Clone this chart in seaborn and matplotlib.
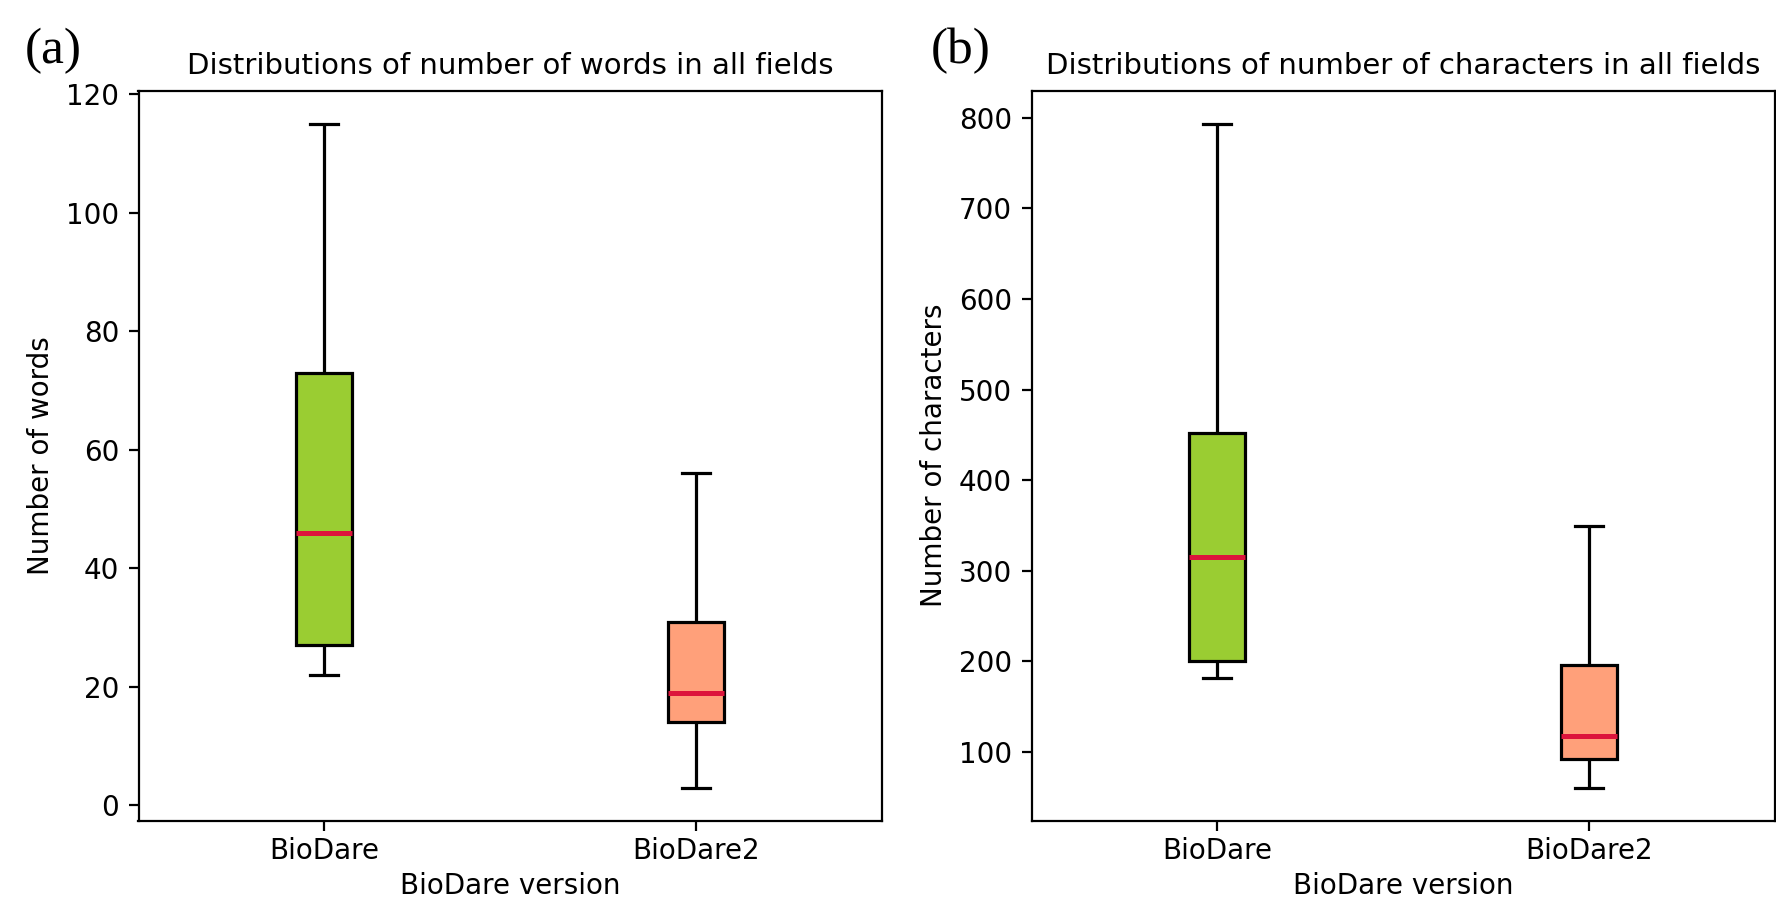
import matplotlib
matplotlib.use("Agg")
import matplotlib.pyplot as plt
import seaborn as sns
import pandas as pd

# Five-number summaries: [min, Q1, median, Q3, max]
versions = ["BioDare", "BioDare2"]
words_biodare = [22, 27, 46, 73, 115]
words_biodare2 = [3, 14, 19, 31, 56]
chars_biodare = [182, 201, 315, 452, 793]
chars_biodare2 = [61, 93, 118, 196, 350]
box_colors = ["yellowgreen", "lightsalmon"]
median_color = "crimson"

titles = ["Distributions of number of words in all fields",
          "Distributions of number of characters in all fields"]
ylabels = ["Number of words", "Number of characters"]
xlabel = "BioDare version"
panel_labels = ["(a)", "(b)"]

plt.rcParams["font.family"] = ["DejaVu Sans"]
plt.rcParams["font.size"] = 10

df_words = pd.DataFrame({
    "version": [versions[0]] * len(words_biodare) + [versions[1]] * len(words_biodare2),
    "value": words_biodare + words_biodare2,
})
df_chars = pd.DataFrame({
    "version": [versions[0]] * len(chars_biodare) + [versions[1]] * len(chars_biodare2),
    "value": chars_biodare + chars_biodare2,
})

fig = plt.figure(figsize=(8.88, 4.49), dpi=200)
W, H = 1776, 898
ax_a = fig.add_axes([138.5 / W, 1 - 820.7 / H, (882 - 138.5) / W, (820.7 - 90.7) / H])
ax_b = fig.add_axes([1031.5 / W, 1 - 820.7 / H, (1774.5 - 1031.5) / W, (820.7 - 90.7) / H])

for ax, df, title, ylabel in [(ax_a, df_words, titles[0], ylabels[0]),
                              (ax_b, df_chars, titles[1], ylabels[1])]:
    sns.boxplot(data=df, x="version", y="value", hue="version",
                palette=box_colors, order=versions, hue_order=versions,
                legend=False, whis=(0, 100), showfliers=False, width=0.15,
                saturation=1, linecolor="black", linewidth=1.15,
                medianprops=dict(color=median_color, linewidth=1.8),
                ax=ax)
    ax.set_title(title, fontsize=10.5)
    ax.set_ylabel(ylabel, fontsize=10)
    ax.set_xlabel(xlabel, fontsize=10, labelpad=2.5)
    ax.tick_params(labelsize=10)
    ax.tick_params(axis="x", pad=2.5)
    for s in ax.spines.values():
        s.set_visible(True)
        s.set_color("black")

fig.text(25 / W, 1 - 51 / H, panel_labels[0], fontsize=18.5,
         family=["Liberation Serif", "DejaVu Serif"], va="center", ha="left")
fig.text(931 / W, 1 - 51 / H, panel_labels[1], fontsize=18.5,
         family=["Liberation Serif", "DejaVu Serif"], va="center", ha="left")

fig.savefig("out.png", dpi=200, facecolor="white")
